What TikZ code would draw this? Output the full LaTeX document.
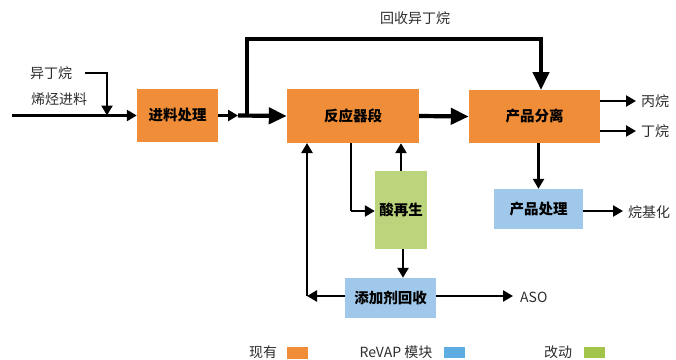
\documentclass[tikz,border=0pt]{standalone}
\usepackage{fontspec}
\setmainfont{Noto Sans CJK SC}
\usetikzlibrary{arrows.meta}
\definecolor{cor}{RGB}{240,141,56}
\definecolor{cbl}{RGB}{160,200,234}
\definecolor{cgr}{RGB}{188,212,124}
\definecolor{lbl}{RGB}{93,173,226}
\definecolor{lgr}{RGB}{162,196,74}
\definecolor{txt}{RGB}{45,45,45}
\tikzset{
  box/.style={draw=none, inner sep=0pt, font=\fontsize{14.5}{15}\selectfont\bfseries, text=black},
  lab/.style={inner sep=0pt, font=\fontsize{14}{15}\selectfont, text=txt},
  thin/.style={line width=2.4pt, -{Triangle[length=10pt,width=11pt]}},
  thin0/.style={line width=2.4pt},
  thick/.style={line width=4.2pt, -{Triangle[length=18pt,width=16pt]}},
  legbox/.style={draw=none, inner sep=0pt, minimum width=21pt, minimum height=11.5pt},
}
\begin{document}
\begin{tikzpicture}[x=1pt,y=-1pt]
\useasboundingbox (0,0) rectangle (676,359);
% boxes
\node[box, fill=cor, minimum width=81pt, minimum height=53pt] (feed) at (177.5,115.5) {进料处理};
\node[box, fill=cor, minimum width=132pt, minimum height=54pt] (reactor) at (353,116) {反应器段};
\node[box, fill=cor, minimum width=131pt, minimum height=53pt] (sep) at (534.5,116.5) {产品分离};
\node[box, fill=cbl, minimum width=89pt, minimum height=40pt] (prod) at (538.5,209) {产品处理};
\node[box, fill=cgr, minimum width=52pt, minimum height=78pt] (acid) at (401,210) {酸再生};
\node[box, fill=cbl, minimum width=91pt, minimum height=40pt] (add) at (390.5,298) {添加剂回收};
% labels
\node[lab] (lrec) at (415,18) {回收异丁烷};
\node[lab] (liso) at (51,73) {异丁烷};
\node[lab] (lole) at (59,99) {烯烃进料};
\node[lab, anchor=west] (lprop) at (641,101) {丙烷};
\node[lab, anchor=west] (lbut) at (641,131) {丁烷};
\node[lab, anchor=west] (lalk) at (628,212) {烷基化};
\node[lab, anchor=west] (laso) at (520,297) {ASO};
% coordinates
\coordinate (in) at (12,115.5);
\coordinate (isoA) at (85,73);
\coordinate (isoB) at (107,73);
\coordinate (isoC) at (107,115.5);
\coordinate (j2) at (238,115.5);
\coordinate (r1) at (247,115.5);
\coordinate (r2) at (247,39);
\coordinate (r3) at (541,39);
\coordinate (s3) at (541,90);
\coordinate (o1) at (636,101);
\coordinate (o2) at (636,131);
\coordinate (o3) at (623,211);
\coordinate (aso) at (513,296);
\coordinate (c1) at (351,143);
\coordinate (c2) at (351,211);
\coordinate (c3) at (307,296);
\coordinate (c4) at (307,143);
% connectors
\draw[thin] (in) -- (feed.west);
\draw[thin] (isoA) -- (isoB) -- (isoC);
\draw[thin] (feed.east) -- (j2);
\draw[thick] (j2) -- (reactor.west);
\draw[thick] (r1) -- (r2) -- (r3) -- (s3);
\draw[thick] (reactor.east) -- (sep.west);
\draw[thin] (sep.east |- o1) -- (o1);
\draw[thin] (sep.east |- o2) -- (o2);
\draw[thin] (sep.south -| prod.north) -- (prod.north);
\draw[thin] (prod.east |- o3) -- (o3);
\draw[thin0] (c1) -- (c2);
\draw[thin] (c2) -- (acid.west |- c2);
\draw[thin] (acid.north) -- (acid.north |- reactor.south);
\draw[thin] ([xshift=2pt]acid.south) -- ([xshift=2pt]acid.south |- add.north);
\draw[thin] (add.west |- c3) -- (c3);
\draw[thin] (c3) -- (c4);
\draw[thin] (add.east |- aso) -- (aso);
% legend
\node[lab] (lg1) at (263,352) {现有};
\node[legbox, fill=cor] (lr1) at (297.5,353) {};
\node[lab] (lg2) at (396,352) {ReVAP 模块};
\node[legbox, fill=lbl] (lr2) at (454,352.5) {};
\node[lab] (lg3) at (558,352) {改动};
\node[legbox, fill=lgr] (lr3) at (594,352.5) {};
\end{tikzpicture}
\end{document}
